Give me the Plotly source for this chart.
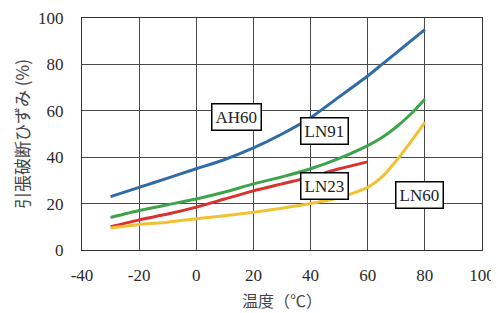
import plotly.graph_objects as go

# Temperature (°C)
temps = [-30, -20, -10, 0, 10, 20, 30, 40, 50, 60, 65, 70, 75, 80]
temps_ln23 = [-30, -20, -10, 0, 10, 20, 30, 40, 50, 60]

# Tensile strain at break (%)
ah60 = [23, 27, 31, 35, 39, 44, 50, 57, 66, 75, 80, 85, 90, 95]
ln91 = [14, 17, 19.5, 22, 25, 28.5, 31.5, 35, 39.5, 45, 48.5, 53, 58.5, 65]
ln23 = [10, 13, 15.5, 18.5, 22, 25.5, 28.5, 31.5, 35, 38]
ln60 = [9.5, 11, 12, 13.5, 14.8, 16.3, 18, 20, 22.5, 27, 31.5, 38.5, 46.5, 55]

labels = ["AH60", "LN91", "LN23", "LN60"]
label_x = [14, 45, 45, 78]
label_y = [57.5, 51.3, 27.8, 23.5]

x_ticks = [-40, -20, 0, 20, 40, 60, 80, 100]
y_ticks = [0, 20, 40, 60, 80, 100]

colors = {"AH60": "#2f6ca6", "LN91": "#3ea34a", "LN23": "#d8322c", "LN60": "#f0c232"}

fig = go.Figure()
series = [("AH60", temps, ah60), ("LN91", temps, ln91), ("LN23", temps_ln23, ln23), ("LN60", temps, ln60)]
for name, xs, ys in series:
    fig.add_trace(go.Scatter(x=xs, y=ys, mode="lines", name=name,
                             line=dict(color=colors[name], width=3, shape="spline", smoothing=0.6)))

for t, lx, ly in zip(labels, label_x, label_y):
    fig.add_annotation(x=lx, y=ly, xref="x", yref="y", text=t, showarrow=False,
                       font=dict(family="Liberation Serif", size=17, color="#222"),
                       bgcolor="white", bordercolor="black", borderwidth=1.5, borderpad=3)

axis_common = dict(showgrid=True, gridcolor="#4a4a4a", gridwidth=1, showline=True, linecolor="#333",
                   linewidth=1.2, mirror=True, zeroline=False, ticks="", automargin=False,
                   tickfont=dict(family="Liberation Serif", size=17, color="#2a2a2a"))

fig.update_xaxes(range=[-40, 100], tickvals=x_ticks, ticktext=[str(v) for v in x_ticks],
                 ticklabelstandoff=9,
                 title=dict(text="温度（℃）", font=dict(family="Noto Sans CJK JP", size=16, color="#444"), standoff=12),
                 **axis_common)
fig.update_yaxes(range=[0, 100], tickvals=y_ticks, ticktext=[str(v) for v in y_ticks],
                 ticklabelstandoff=14,
                 title=dict(text="引張破断ひずみ (%)", font=dict(family="Noto Sans CJK JP", size=17, color="#444"), standoff=4),
                 **axis_common)

# page body has an 8px default margin, so the figure is sized to fill the rest of the window
fig.update_layout(width=491, height=305, margin=dict(l=74, r=17, t=10, b=63),
                  plot_bgcolor="white", paper_bgcolor="white", showlegend=False)

fig.write_html("out.html")
